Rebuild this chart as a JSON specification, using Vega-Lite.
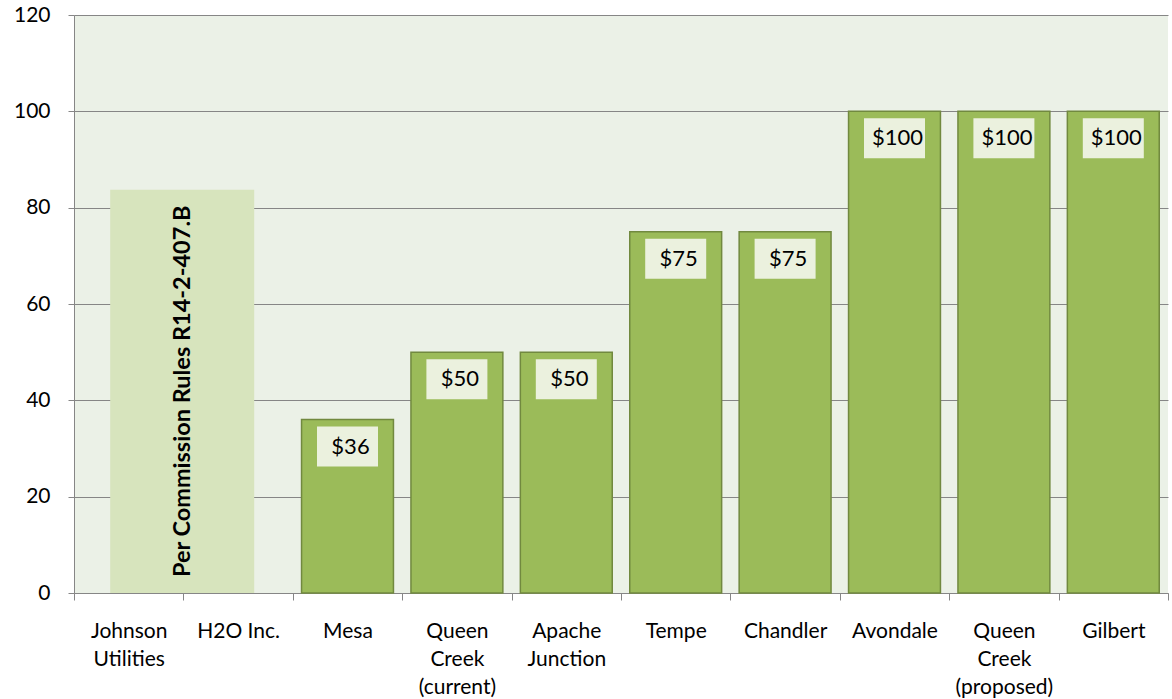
{
  "$schema": "https://vega.github.io/schema/vega-lite/v6.json",
  "width": 1094,
  "height": 578,
  "autosize": {"type": "none"},
  "padding": {"left": 74, "top": 15, "right": 4, "bottom": 106},
  "background": "white",
  "config": {
    "view": {"fill": "#EBF1E7", "stroke": null},
    "font": "Lato",
    "axis": {
      "labelFont": "Lato",
      "labelFontSize": 21,
      "labelColor": "#000000",
      "domainColor": "#868686",
      "tickColor": "#868686",
      "gridColor": "#868686",
      "title": null
    }
  },
  "datasets": {
    "rates": [
      {"utility": "Mesa", "fee": 36},
      {"utility": "Queen Creek (current)", "fee": 50},
      {"utility": "Apache Junction", "fee": 50},
      {"utility": "Tempe", "fee": 75},
      {"utility": "Chandler", "fee": 75},
      {"utility": "Avondale", "fee": 100},
      {"utility": "Queen Creek (proposed)", "fee": 100},
      {"utility": "Gilbert", "fee": 100}
    ],
    "note": [
      {"utility": "Johnson Utilities", "top": 83.7, "text": "Per Commission Rules R14-2-407.B"}
    ]
  },
  "encoding": {
    "x": {
      "field": "utility",
      "type": "nominal",
      "sort": null,
      "scale": {
        "domain": ["Johnson Utilities", "H2O Inc.", "Mesa", "Queen Creek (current)", "Apache Junction", "Tempe", "Chandler", "Avondale", "Queen Creek (proposed)", "Gilbert"],
        "paddingInner": 0,
        "paddingOuter": 0
      },
      "axis": {
        "labelAngle": 0,
        "tickBand": "extent",
        "tickSize": 7,
        "labelPadding": 20,
        "labelLineHeight": 28,
        "labelBaseline": "top",
        "labelExpr": "datum.label == 'H2O Inc.' ? datum.label : split(datum.label, ' ')",
        "grid": false
      }
    }
  },
  "layer": [
    {
      "data": {"name": "note"},
      "mark": {"type": "bar", "color": "#D7E4BD", "width": 144, "xOffset": 53.5},
      "encoding": {
        "y": {
          "field": "top",
          "type": "quantitative",
          "scale": {"domain": [0, 120]},
          "axis": {"values": [0, 20, 40, 60, 80, 100, 120], "tickSize": 6, "labelPadding": 18, "grid": true, "domain": true}
        }
      }
    },
    {
      "data": {"name": "note"},
      "mark": {"type": "text", "angle": 270, "align": "center", "baseline": "middle", "fontWeight": "bold", "fontSize": 23.5, "font": "Lato", "color": "#000000", "xOffset": 54.3, "yOffset": 201.5},
      "encoding": {
        "y": {"field": "top", "type": "quantitative"},
        "text": {"field": "text"}
      }
    },
    {
      "data": {"name": "rates"},
      "mark": {"type": "bar", "color": "#9BBB59", "stroke": "#71893F", "strokeWidth": 1.5, "width": {"band": 0.84}},
      "encoding": {
        "y": {"field": "fee", "type": "quantitative"}
      }
    },
    {
      "data": {"name": "rates"},
      "mark": {"type": "bar", "color": "#EBF1DE", "yOffset": 7, "y2Offset": 47},
      "encoding": {
        "y": {"field": "fee", "type": "quantitative"},
        "y2": {"field": "fee"},
        "size": {
          "field": "fee",
          "type": "ordinal",
          "scale": {"domain": [36, 50, 75, 100], "range": [61, 61, 61, 75]},
          "legend": null
        }
      }
    },
    {
      "data": {"name": "rates"},
      "mark": {"type": "text", "align": "center", "baseline": "middle", "fontSize": 22, "font": "Lato", "color": "#000000", "dy": 27, "dx": 3},
      "encoding": {
        "y": {"field": "fee", "type": "quantitative"},
        "text": {"field": "fee", "type": "quantitative", "format": "$.0f"}
      }
    }
  ]
}
